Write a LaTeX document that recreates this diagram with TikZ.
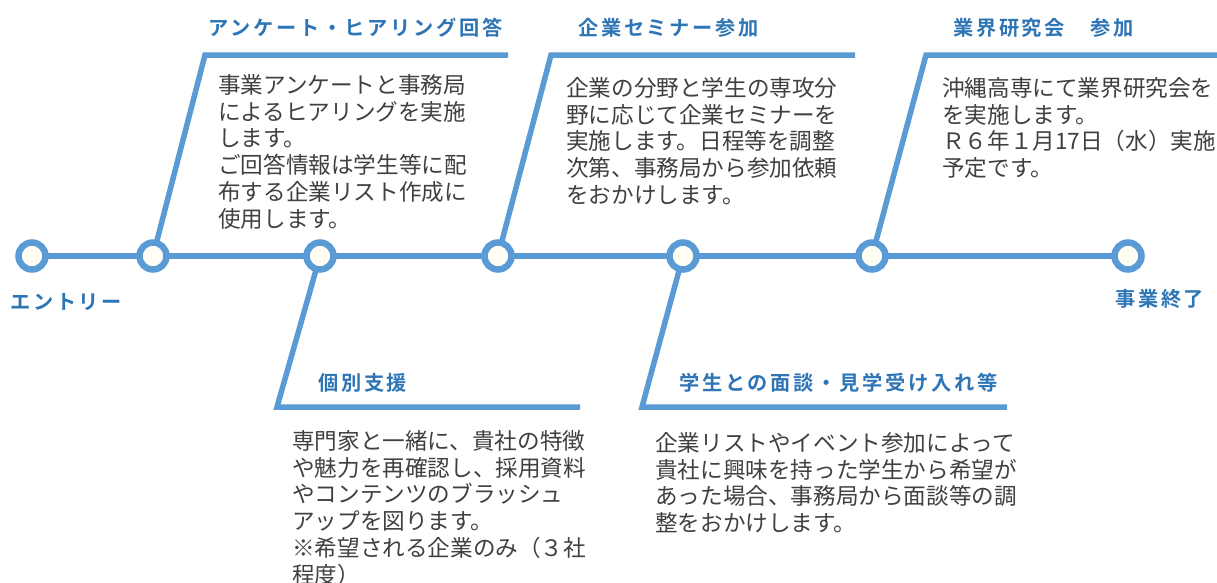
\documentclass[tikz,border=0pt]{standalone}
\usepackage{fontspec}
\newfontfamily\jpbody{Noto Sans CJK JP}
\newfontfamily\jphead{Noto Sans CJK JP Bold}[LetterSpace=13.5]
\definecolor{lineblue}{HTML}{5B9BD5}
\definecolor{headblue}{HTML}{2E75B6}
\definecolor{bodygray}{HTML}{404040}
\definecolor{dotfill}{HTML}{FFFDF4}
\tikzset{
  dot/.style={circle, draw=lineblue, fill=dotfill, line width=6.5pt, minimum size=27pt, inner sep=0pt, outer sep=0pt},
  tline/.style={draw=lineblue, line width=6pt},
  bar/.style={draw=lineblue, line width=5.5pt, line join=miter},
  head/.style={anchor=west, inner sep=0pt, text=headblue, font=\jphead\fontsize{20.2}{24}\selectfont},
  body/.style={anchor=north west, inner sep=0pt, align=left, text=bodygray, font=\jpbody\fontsize{22.6}{26.8}\selectfont}
}
\begin{document}
\begin{tikzpicture}[x=1pt,y=-1pt]
\useasboundingbox[fill=white] (0,0) rectangle (1217,582);
% corner coordinates of the bars
\coordinate (t1a) at (205,55);  \coordinate (t1b) at (508,55);
\coordinate (t2a) at (551,55);  \coordinate (t2b) at (855,55);
\coordinate (t3a) at (926,55);  \coordinate (t3b) at (1217,55);
\coordinate (b1a) at (277,407); \coordinate (b1b) at (580,407);
\coordinate (b2a) at (642,407); \coordinate (b2b) at (1007,407);
% dots
\node[dot] (c1) at (32,256) {};
\node[dot] (c2) at (153,256) {};
\node[dot] (c3) at (320,256) {};
\node[dot] (c4) at (498,256) {};
\node[dot] (c5) at (683,256) {};
\node[dot] (c6) at (872,256) {};
\node[dot] (c7) at (1128,256) {};
% timeline
\draw[tline] (c1) -- (c2);
\draw[tline] (c2) -- (c3);
\draw[tline] (c3) -- (c4);
\draw[tline] (c4) -- (c5);
\draw[tline] (c5) -- (c6);
\draw[tline] (c6) -- (c7);
% bars
\draw[bar] (c2) -- (t1a) -- (t1b);
\draw[bar] (c4) -- (t2a) -- (t2b);
\draw[bar] (c6) -- (t3a) -- (t3b);
\draw[bar] (c3) -- (b1a) -- (b1b);
\draw[bar] (c5) -- (b2a) -- (b2b);
% headings
\node[head] (h1) at (208,27.5) {アンケート・ヒアリング回答};
\node[head] (h2) at (578,27.5) {企業セミナー参加};
\node[head] (h3) at (953,27.5) {業界研究会　参加};
\node[head] (h4) at (318,383) {個別支援};
\node[head] (h5) at (679,383) {学生との面談・見学受け入れ等};
\node[head] (l1) at (10,302) {エントリー};
\node[head] (l2) at (1115,299) {事業終了};
% bodies
\node[body] (x1) at (218,74) {事業アンケートと事務局\\によるヒアリングを実施\\します。\\ご回答情報は学生等に配\\布する企業リスト作成に\\使用します。};
\node[body] (x2) at (566,77) {企業の分野と学生の専攻分\\野に応じて企業セミナーを\\実施します。日程等を調整\\次第、事務局から参加依頼\\をおかけします。};
\node[body] (x3) at (942,77) {沖縄高専にて業界研究会を\\を実施します。\\Ｒ６年１月17日（水）実施\\予定です。};
\node[body] (x4) at (292,430) {専門家と一緒に、貴社の特徴\\や魅力を再確認し、採用資料\\やコンテンツのブラッシュ\\アップを図ります。\\※希望される企業のみ（３社\\程度）};
\node[body] (x5) at (655,432) {企業リストやイベント参加によって\\貴社に興味を持った学生から希望が\\あった場合、事務局から面談等の調\\整をおかけします。};
\end{tikzpicture}
\end{document}
